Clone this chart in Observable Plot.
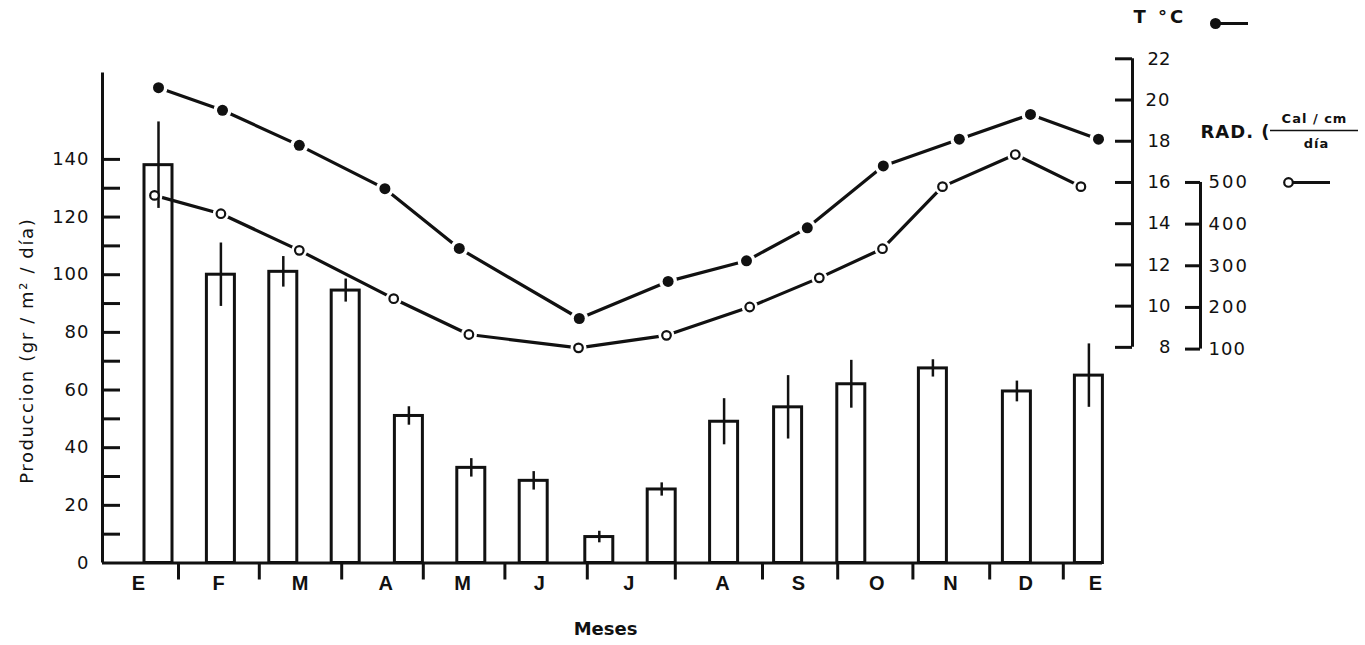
<!DOCTYPE html>
<html>
<head>
<meta charset="utf-8">
<script src="https://cdn.jsdelivr.net/npm/d3@7"></script>
<script src="https://cdn.jsdelivr.net/npm/@observablehq/plot@0.6"></script>
<style>
  html, body { margin: 0; padding: 0; background: #fff; }
  #chart svg { display: block; }
</style>
</head>
<body>
<div id="chart"></div>
<script>
// ---- Month axis (time in months from the start of January, as drawn) ----
const monthLabels  = ["E","F","M","A","M","J","J","A","S","O","N","D","E"];
const monthLabelAt = [0.45,1.45,2.47,3.54,4.5,5.46,6.58,7.75,8.7,9.68,10.6,11.54,12.41];
const monthEdges   = [0.95,1.96,2.99,4.01,5.03,6.06,7.16,8.25,9.19,10.13,11.09,12.01];

// ---- Production samples (gr/m²/día): sampling time (months), mean, error ----
const sampleTime    = [0.70,1.48,2.26,3.04,3.83,4.61,5.39,6.21,6.99,7.77,8.57,9.36,10.38,11.43,12.33];
const production    = [138,100,101,94.5,51,33,28.5,9,25.5,49,54,62,67.5,59.5,65];
const productionErr = [15,11,5.3,4,3.2,3.2,3.2,2,2.3,8,11,8.3,3,3.6,11];

// ---- Monthly mean temperature (°C) ----
const tempTime    = [0.70,1.50,2.46,3.53,4.46,5.96,7.07,8.05,8.81,9.76,10.71,11.60,12.45];
const temperature = [20.6,19.5,17.8,15.7,12.8,9.4,11.2,12.2,13.8,16.8,18.1,19.3,18.1];

// ---- Monthly radiation (Cal/cm²/día) ----
const radTime   = [0.65,1.48,2.46,3.64,4.58,5.95,7.05,8.09,8.96,9.75,10.50,11.41,12.23];
const radiation = [469,425,337,221,135,103,133,201,271,341,490,567,490];

// ---- Axis ticks ----
const prodTicks  = [10,20,30,40,50,60,70,80,90,100,110,120,130,140];
const prodLabels = [0,20,40,60,80,100,120,140];
const tempTicks  = [8,10,12,14,16,18,20,22];
const radTicks   = [100,200,300,400,500];

// ---- Text ----
const yTitle = "Produccion (gr / m² / día)";
const xTitle = "Meses";
const tLegend = "T °C";
const radLegend = "RAD. (";
const radUnitTop = "Cal / cm";
const radUnitBottom = "día";

// ---- Layout / style constants ----
const W = 1365, H = 645, ML = 102, MR = 263, MT = 58, MB = 82.5;
const FW = W - ML - MR, FH = H - MT - MB;
const X_MAX = 12.5, Y_MAX = 175, LEFT_AXIS_TOP = 170;
const BAR_HALF = 0.175;
const ink = "#111";

// secondary axes expressed on the production scale
const tempToProd = d3.scaleLinear().domain([8, 22]).range([74.8, 174.9]);
const radToProd  = d3.scaleLinear().domain([100, 500]).range([74.2, 132.0]);

const samples = sampleTime.map((t, i) => ({t, v: production[i], e: productionErr[i]}));
const temps = tempTime.map((t, i) => ({t, y: tempToProd(temperature[i])}));
const rads = radTime.map((t, i) => ({t, y: radToProd(radiation[i])}));
const months = monthLabels.map((m, i) => ({m, t: monthLabelAt[i]}));

const plot = Plot.plot({
  width: W, height: H,
  marginLeft: ML, marginRight: MR, marginTop: MT, marginBottom: MB,
  x: {domain: [0, X_MAX], axis: null},
  y: {domain: [0, Y_MAX], axis: null},
  style: {fontFamily: "'DejaVu Sans', sans-serif", fontSize: "17px", color: ink, background: "#fff", overflow: "visible"},
  marks: [
    // bars
    Plot.rect(samples, {x1: d => d.t - BAR_HALF, x2: d => d.t + BAR_HALF, y1: 0, y2: "v",
      fill: "#fff", stroke: ink, strokeWidth: 3}),
    // lines
    Plot.line(temps, {x: "t", y: "y", stroke: ink, strokeWidth: 3.2}),
    Plot.line(rads, {x: "t", y: "y", stroke: ink, strokeWidth: 3.2}),
    Plot.dot(temps, {x: "t", y: "y", r: 9, fill: "#fff"}),
    Plot.dot(rads, {x: "t", y: "y", r: 8, fill: "#fff"}),
    // error bars
    Plot.ruleX(samples, {x: "t", y1: d => d.v - d.e, y2: d => d.v + d.e, stroke: ink, strokeWidth: 2.5}),
    // points
    Plot.dot(temps, {x: "t", y: "y", r: 5.5, fill: ink}),
    Plot.dot(rads, {x: "t", y: "y", r: 4.3, fill: "#fff", stroke: ink, strokeWidth: 2.2}),

    // x axis
    Plot.ruleY([0], {stroke: ink, strokeWidth: 3}),
    Plot.tickX(monthEdges, {x: d => d, insetTop: FH, insetBottom: -17, stroke: ink, strokeWidth: 3}),
    Plot.text(months, {x: "t", text: "m", frameAnchor: "bottom", dy: 21, lineAnchor: "middle", textAnchor: "middle",
      fontFamily: "'Liberation Sans', Arial, sans-serif", fontWeight: "bold", fontSize: 20, fill: ink}),
    Plot.text([xTitle], {text: d => d, frameAnchor: "bottom", dx: 3, dy: 66, lineAnchor: "middle", textAnchor: "middle",
      fontFamily: "'DejaVu Sans', sans-serif", fontWeight: "bold", fontSize: 18, fill: ink}),

    // left axis
    Plot.ruleX([0], {y1: 0, y2: LEFT_AXIS_TOP, stroke: ink, strokeWidth: 3}),
    Plot.tickY(prodTicks, {y: d => d, insetRight: FW - 18, stroke: ink, strokeWidth: 3}),
    Plot.text(prodLabels, {y: d => d, text: d => String(d), frameAnchor: "left", dx: -13,
      textAnchor: "end", lineAnchor: "middle", fontSize: 18, fill: ink}),
    Plot.text([yTitle], {text: d => d, frameAnchor: "left", dx: -75, dy: 40,
      rotate: -90, textAnchor: "middle", lineAnchor: "middle", fontSize: 18, fill: ink}),

    // right temperature axis
    Plot.ruleX([X_MAX], {y1: tempToProd(8), y2: tempToProd(22), dx: 30, stroke: ink, strokeWidth: 3}),
    Plot.tickY(tempTicks, {y: d => tempToProd(d), insetLeft: FW + 13, insetRight: -30, stroke: ink, strokeWidth: 3}),
    Plot.text(tempTicks, {y: d => tempToProd(d), text: d => String(d), frameAnchor: "right", dx: 68,
      textAnchor: "end", lineAnchor: "middle", fontSize: 18, fill: ink}),

    // right radiation axis
    Plot.ruleX([X_MAX], {y1: radToProd(100), y2: radToProd(500), dx: 98, stroke: ink, strokeWidth: 3}),
    Plot.tickY(radTicks, {y: d => radToProd(d), insetLeft: FW + 83, insetRight: -98, stroke: ink, strokeWidth: 3}),
    Plot.text(radTicks, {y: d => radToProd(d), text: d => String(d), frameAnchor: "right", dx: 106,
      textAnchor: "start", lineAnchor: "middle", fontSize: 18, fill: ink}),

    // legend: temperature
    Plot.text([tLegend], {text: d => d, frameAnchor: "top-right", dx: 31, dy: -41, textAnchor: "start", lineAnchor: "middle",
      fontSize: 18, fontWeight: "bold", fill: ink}),
    Plot.tickY([Y_MAX], {y: d => d, dy: -35, insetLeft: FW + 113, insetRight: -146, stroke: ink, strokeWidth: 3}),
    Plot.dot([Y_MAX], {frameAnchor: "top-right", dx: 113, dy: -35, r: 5.5, fill: ink}),

    // legend: radiation
    Plot.text([radLegend], {text: d => d, frameAnchor: "top-right", dx: 98, dy: 74, textAnchor: "start", lineAnchor: "middle",
      fontSize: 18, fontWeight: "bold", fill: ink}),
    Plot.text([radUnitTop], {text: d => d, frameAnchor: "top-right", dx: 212, dy: 60, textAnchor: "middle", lineAnchor: "middle",
      fontSize: 13, fontWeight: "bold", fill: ink}),
    Plot.tickY([Y_MAX], {y: d => d, dy: 72, insetLeft: FW + 168, insetRight: -256, stroke: ink, strokeWidth: 1.6}),
    Plot.text([radUnitBottom], {text: d => d, frameAnchor: "top-right", dx: 214, dy: 85, textAnchor: "middle", lineAnchor: "middle",
      fontSize: 13, fontWeight: "bold", fill: ink}),
    Plot.tickY([500], {y: d => radToProd(d), insetLeft: FW + 191, insetRight: -228, stroke: ink, strokeWidth: 3}),
    Plot.dot([500], {y: d => radToProd(d), frameAnchor: "right", dx: 186, r: 4.3, fill: "#fff", stroke: ink, strokeWidth: 2.2})
  ]
});

// letter spacing tweaks (style only)
const spacing = new Map([
  [tLegend, "3px"], [yTitle, "1.6px"], [radLegend, "1px"], [radUnitTop, "1px"], [radUnitBottom, "1px"]
]);
radTicks.forEach(d => spacing.set(String(d), "2px"));
prodLabels.forEach(d => spacing.set(String(d), "1px"));
d3.select(plot).selectAll("text").each(function () {
  const s = spacing.get(this.textContent);
  if (s) this.style.letterSpacing = s;
});

document.getElementById("chart").appendChild(plot);
</script>
</body>
</html>
